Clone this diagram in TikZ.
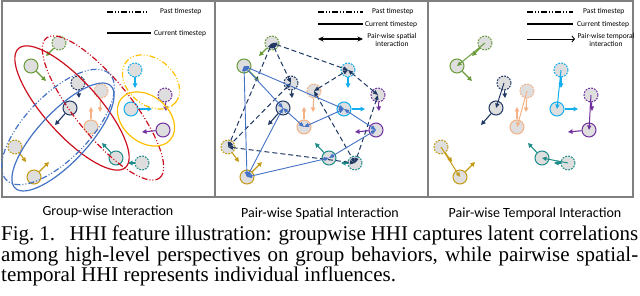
\documentclass[tikz,border=0pt]{standalone}
\usepackage{fontspec}
\setmainfont{Liberation Serif}
\newfontfamily\calfont{Carlito}
\usetikzlibrary{arrows.meta}
\definecolor{cgreen}{HTML}{6A9A3A}
\definecolor{cnavy}{HTML}{203864}
\definecolor{cpeach}{HTML}{F4B183}
\definecolor{cteal}{HTML}{1E8C88}
\definecolor{ccyan}{HTML}{14AEEC}
\definecolor{cpurple}{HTML}{7030A0}
\definecolor{cgold}{HTML}{C49A14}
\definecolor{cred}{HTML}{CC1020}
\definecolor{cblue}{HTML}{4472C4}
\definecolor{cyellow}{HTML}{FFC000}
\definecolor{cfill}{HTML}{DEDEDE}
\definecolor{cframe}{HTML}{7F7F7F}
\newcommand\agentset[1]{%
  \node[pastag=cgreen]  (gp#1) at (59,43) {};
  \node[curag=cgreen]   (gc#1) at (31,66) {};
  \node[pastag=cnavy]   (np#1) at (78,83) {};
  \node[curag=cnavy]    (nc#1) at (70,108) {};
  \node[pastag=cpeach]  (pp#1) at (101,91) {};
  \node[curag=cpeach]   (pc#1) at (91,127) {};
  \node[pastag=ccyan]   (cp#1) at (135,70) {};
  \node[curag=ccyan]    (cc#1) at (131,109) {};
  \node[pastag=cpurple] (up#1) at (165,95) {};
  \node[curag=cpurple]  (uc#1) at (163,130) {};
  \node[pastag=cteal]   (tp#1) at (142,163) {};
  \node[curag=cteal]    (tc#1) at (116,158) {};
  \node[pastag=cgold]   (op#1) at (15,147) {};
  \node[curag=cgold]    (oc#1) at (34,177) {};
  \draw[vel=cgreen]  (gp#1) -- ++(-13,13);
  \draw[vel=cgreen]  (gc#1) -- ++(15,15);
  \draw[vel=cnavy]   (np#1) -- ++(1,15);
  \draw[vel=cnavy]   (nc#1) -- ++(-15,17);
  \draw[vel=cpeach]  (pp#1) -- ++(-1,21);
  \draw[vel=cpeach]  (pc#1) -- ++(0,-20);
  \draw[vel=ccyan]   (cp#1) -- ++(0,18);
  \draw[vel=ccyan]   (cc#1) -- ++(21,0);
  \draw[vel=cpurple] (up#1) -- ++(1,16);
  \draw[vel=cpurple] (uc#1) -- ++(-21,2);
  \draw[vel=cteal]   (tc#1) -- ++(-14,-15);
  \draw[vel=cteal]   (tp#1) -- ++(-14,0);
  \draw[vel=cgold]   (op#1) -- ++(11,15);
  \draw[vel=cgold]   (oc#1) -- ++(15,-15);
}
\begin{document}
\begin{tikzpicture}[x=1pt,y=-1pt,
  pastag/.style={circle, draw=#1, fill=cfill, line width=1pt, dash pattern=on 1.8pt off 1.2pt, minimum size=14pt, inner sep=0pt},
  curag/.style={circle, draw=#1, fill=cfill, line width=1pt, minimum size=14pt, inner sep=0pt},
  vel/.style={draw=#1, line width=1.1pt, -{Triangle[length=4.5pt,width=4.5pt]}},
  dashdot/.style={dash pattern=on 6pt off 2pt on 1pt off 2pt on 1pt off 2pt},
  ell/.style={draw=#1, line width=1.2pt},
  pastlink/.style={draw=cnavy, line width=1pt, dash pattern=on 5pt off 3pt, {Triangle[length=5pt,width=4pt]}-{Triangle[length=5pt,width=4pt]}},
  curlink/.style={draw=cblue, line width=0.9pt, {Triangle[length=5pt,width=4pt]}-{Triangle[length=5pt,width=4pt]}},
  templink/.style={draw=#1, line width=1pt, -{Triangle[length=4.5pt,width=4pt]}},
  legtxt/.style={font=\calfont\fontsize{7.5}{8.5}\selectfont, inner sep=0pt},
  lab/.style={font=\calfont\fontsize{14}{16}\selectfont, inner sep=0pt},
  capt/.style={font=\fontsize{21}{21}\selectfont, inner sep=0pt},
  legline/.style={line width=1.3pt, black}]
\useasboundingbox (0,0) rectangle (640,296);
% frames
\draw[cframe, line width=1.3pt] (2,1) rectangle (633,197);
\draw[cframe, line width=1.3pt] (215,1) -- (215,197);
\draw[cframe, line width=1.3pt] (428,1) -- (428,197);

% ---------- panel 1 ----------
\agentset{1}
\draw[ell=cred] [rotate around={-48:(72,108)}] (72,108) ellipse [x radius=80pt, y radius=27pt];
\draw[ell=cred, dashdot] [rotate around={-51:(103,108)}] (103,108) ellipse [x radius=90pt, y radius=28pt];
\draw[ell=cblue, dashdot] [rotate around={46:(58,127)}] (58,127) ellipse [x radius=74pt, y radius=32pt];
\draw[ell=cblue] [rotate around={47:(63,137)}] (63,137) ellipse [x radius=70pt, y radius=25pt];
\draw[ell=cyellow, dashdot] [rotate around={-40:(151,82)}] (151,82) ellipse [x radius=32pt, y radius=23pt];
\draw[ell=cyellow] [rotate around={-40:(146,119)}] (146,119) ellipse [x radius=32pt, y radius=23pt];
% legend 1
\coordinate (la1) at (107,12); \coordinate (lb1) at (148,12);
\coordinate (lc1) at (107,33); \coordinate (ld1) at (151,33);
\draw[legline, dashdot] (la1) -- (lb1);
\draw[legline, line width=1.5pt] (lc1) -- (ld1);
\node[legtxt, anchor=west] (lt1) at (160,12) {Past timestep};
\node[legtxt, anchor=west] (lu1) at (154,34) {Current timestep};

% ---------- panel 2 ----------
\begin{scope}[xshift=213pt]
\agentset{2}
\foreach \x/\y in {gp/cp, gp/np, gp/op, np/op, pp/cp, pp/tp, cp/up, up/tp, op/tp}
  \draw[pastlink] (\x2.center) -- (\y2.center);
\foreach \x/\y in {gc/oc, gc/nc, gc/cc, nc/pc, nc/oc, pc/cc, cc/uc, uc/tc, tc/oc}
  \draw[curlink] (\x2.center) -- (\y2.center);
\end{scope}
% legend 2
\coordinate (la2) at (318,12); \coordinate (lb2) at (363,12);
\coordinate (lc2) at (318,24); \coordinate (ld2) at (363,24);
\coordinate (le2) at (318,39); \coordinate (lf2) at (363,39);
\draw[legline, dashdot] (la2) -- (lb2);
\draw[legline, line width=1.5pt] (lc2) -- (ld2);
\draw[legline, {Stealth[length=5.5pt,width=5pt]}-{Stealth[length=5.5pt,width=5pt]}] (le2) -- (lf2);
\node[legtxt, anchor=west] (lt2) at (372,12) {Past timestep};
\node[legtxt, anchor=west] (lu2) at (365,25) {Current timestep};
\node[legtxt, align=center] (lv2) at (392,40) {Pair-wise spatial\\interaction};

% ---------- panel 3 ----------
\begin{scope}[xshift=426pt]
\agentset{3}
\foreach \nm/\col in {g/cgreen, n/cnavy, p/cpeach, c/ccyan, u/cpurple, t/cteal, o/cgold}
  \draw[templink=\col] (\nm p3.center) -- (\nm c3.center);
\end{scope}
% legend 3
\coordinate (la3) at (527,12); \coordinate (lb3) at (573,12);
\coordinate (lc3) at (527,24); \coordinate (ld3) at (573,24);
\coordinate (le3) at (527,39); \coordinate (lf3) at (575,39);
\draw[legline, dashdot] (la3) -- (lb3);
\draw[legline, line width=1.5pt] (lc3) -- (ld3);
\draw[black, line width=0.9pt, -{Straight Barb[length=2.5pt,width=6pt]}] (le3) -- (lf3);
\node[legtxt, anchor=west] (lt3) at (583,12) {Past timestep};
\node[legtxt, anchor=west] (lu3) at (577,25) {Current timestep};
\node[legtxt, align=center] (lv3) at (606,40) {Pair-wise temporal\\interaction};

% ---------- labels ----------
\node[lab] (g1) at (108,211.5) {Group-wise Interaction};
\node[lab] (g2) at (320,213.5) {Pair-wise Spatial Interaction};
\node[lab] (g3) at (535,213.5) {Pair-wise Temporal Interaction};

% ---------- caption ----------
\node[capt, anchor=base west] (cap1) at (1,241) {\makebox[637pt][s]{Fig.~1.\hspace{0.7em}HHI feature illustration: groupwise HHI captures latent correlations}};
\node[capt, anchor=base west] (cap2) at (1,261.5) {\makebox[637pt][s]{among high-level perspectives on group behaviors, while pairwise spatial-}};
\node[capt, anchor=base west] (cap3) at (1,282) {temporal HHI represents individual influences.};
\end{tikzpicture}
\end{document}
